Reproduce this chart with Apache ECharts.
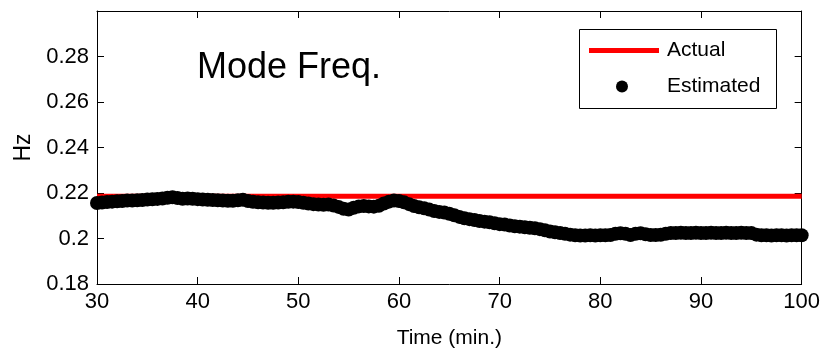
<!DOCTYPE html>
<html><head><meta charset="utf-8">
<script src="https://cdn.jsdelivr.net/npm/echarts@6/dist/echarts.min.js"></script>
<style>html,body{margin:0;padding:0;background:#fff}#c{width:823px;height:354px}</style>
</head><body><div id="c"></div>
<script>
var xTicks = [30, 40, 50, 60, 70, 80, 90, 100];
var actualTime = [30, 100];
var actualHz = [0.2186, 0.2186];
var estTime = [30,30.5,31,31.5,32,32.5,33,33.5,34,34.5,35,35.5,36,36.5,37,37.5,38,38.5,39,39.5,
40,40.5,41,41.5,42,42.5,43,43.5,44,44.5,45,45.5,46,46.5,47,47.5,48,48.5,49,49.5,
50,50.5,51,51.5,52,52.5,53,53.5,54,54.5,55,55.5,56,56.5,57,57.5,58,58.5,59,59.5,
60,60.5,61,61.5,62,62.5,63,63.5,64,64.5,65,65.5,66,66.5,67,67.5,68,68.5,69,69.5,
70,70.5,71,71.5,72,72.5,73,73.5,74,74.5,75,75.5,76,76.5,77,77.5,78,78.5,79,79.5,
80,80.5,81,81.5,82,82.5,83,83.5,84,84.5,85,85.5,86,86.5,87,87.5,88,88.5,89,89.5,
90,90.5,91,91.5,92,92.5,93,93.5,94,94.5,95,95.5,96,96.5,97,97.5,98,98.5,99,99.5,100];
var estHz = [0.2156,0.2158,0.2160,0.2162,0.2164,0.2165,0.2167,0.2167,0.2168,0.2169,0.2171,0.2172,0.2174,0.2176,0.2179,0.2181,0.2178,0.2175,0.2176,0.2175,
0.2173,0.2171,0.2170,0.2169,0.2168,0.2167,0.2166,0.2166,0.2168,0.2170,0.2165,0.2161,0.2159,0.2158,0.2157,0.2157,0.2158,0.2159,0.2161,0.2162,
0.2160,0.2157,0.2154,0.2151,0.2149,0.2148,0.2149,0.2145,0.2139,0.2131,0.2127,0.2135,0.2141,0.2143,0.2141,0.2140,0.2144,0.2154,0.2162,0.2167,
0.2165,0.2159,0.2151,0.2143,0.2137,0.2133,0.2127,0.2121,0.2117,0.2114,0.2109,0.2102,0.2095,0.2089,0.2085,0.2081,0.2077,0.2074,0.2071,0.2067,
0.2063,0.2061,0.2057,0.2054,0.2052,0.2049,0.2047,0.2045,0.2041,0.2036,0.2031,0.2027,0.2024,0.2021,0.2017,0.2014,0.2013,0.2013,0.2014,0.2013,
0.2014,0.2014,0.2015,0.2021,0.2023,0.2021,0.2015,0.2021,0.2023,0.2019,0.2015,0.2015,0.2016,0.2021,0.2024,0.2024,0.2025,0.2024,0.2024,0.2025,
0.2024,0.2024,0.2025,0.2024,0.2024,0.2025,0.2024,0.2024,0.2025,0.2024,0.2024,0.2017,0.2014,0.2014,0.2013,0.2014,0.2014,0.2013,0.2014,0.2014,0.2014];

var FONT = 'Liberation Sans, Arial, sans-serif';
var chart = echarts.init(document.getElementById('c'), null, {renderer: 'canvas'});
var actualData = actualTime.map(function (t, i) { return [t, actualHz[i]]; });
var estData = estTime.map(function (t, i) { return [t, estHz[i]]; });
var axisLine = {show: true, lineStyle: {color: '#000', width: 1}};
var tick = {show: true, inside: true, length: 7, lineStyle: {color: '#000', width: 1}};
chart.setOption({
  animation: false,
  backgroundColor: '#fff',
  title: {text: 'Mode Freq.', left: 197, top: 50, padding: 0, textStyle: {fontFamily: FONT, fontSize: 36, fontWeight: 'normal', color: '#000'}},
  grid: {left: 97, right: 17, top: 11, bottom: 70},
  legend: [
    {data: [{name: 'Actual', icon: 'rect'}], left: 589, top: 40, padding: 0, itemWidth: 70, itemHeight: 5, itemGap: 0,
     textStyle: {fontFamily: FONT, fontSize: 21, color: '#000', padding: [0, 0, 0, 3]}},
    {data: [{name: 'Estimated', icon: 'circle'}], left: 616, top: 76, padding: 0, itemWidth: 12, itemHeight: 12, itemGap: 0,
     textStyle: {fontFamily: FONT, fontSize: 21, color: '#000', padding: [0, 0, 0, 34]}}
  ],
  graphic: [{type: 'rect', left: 577, top: 27, shape: {width: 197, height: 79}, style: {fill: 'none', stroke: '#000', lineWidth: 1}, z: 100, silent: true}],
  xAxis: [
    {type: 'value', min: 30, max: 100, interval: 10, name: 'Time (min.)', nameLocation: 'middle', nameGap: 44,
     nameTextStyle: {fontFamily: FONT, fontSize: 21, color: '#000'},
     axisLine: axisLine, axisTick: tick, splitLine: {show: false},
     axisLabel: {fontFamily: FONT, fontSize: 22, color: '#000', margin: 7,
       formatter: function (v) { return xTicks.indexOf(v) >= 0 ? String(v) : ''; }}},
    {type: 'value', position: 'top', min: 30, max: 100, interval: 10, axisLine: axisLine, axisTick: tick,
     axisLabel: {show: false}, splitLine: {show: false}}
  ],
  yAxis: [
    {type: 'value', min: 0.18, max: 0.30, interval: 0.02, name: 'Hz', nameLocation: 'middle', nameGap: 62,
     nameTextStyle: {fontFamily: FONT, fontSize: 23, color: '#000'},
     axisLine: axisLine, axisTick: tick, splitLine: {show: false},
     axisLabel: {fontFamily: FONT, fontSize: 22, color: '#000', margin: 8, showMaxLabel: false}},
    {type: 'value', position: 'right', min: 0.18, max: 0.30, interval: 0.02, axisLine: axisLine, axisTick: tick,
     axisLabel: {show: false}, splitLine: {show: false}}
  ],
  series: [
    {name: 'Actual', type: 'line', data: actualData, showSymbol: false, symbol: 'none',
     lineStyle: {color: '#ff0000', width: 5}, itemStyle: {color: '#ff0000'}, z: 2},
    {name: 'Estimated', type: 'scatter', data: estData, symbol: 'circle', symbolSize: 14, clip: false,
     itemStyle: {color: '#000', opacity: 1}, z: 3}
  ]
});
</script></body></html>
